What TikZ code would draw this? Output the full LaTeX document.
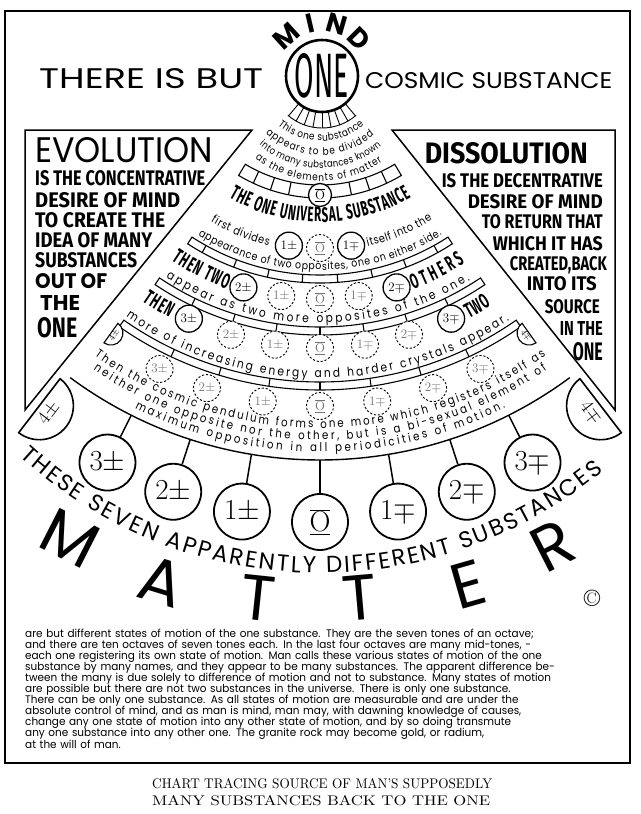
\documentclass[tikz,border=0pt]{standalone}
\usepackage{fix-cm}
\usepackage{graphicx}
\usepackage{fontspec}
\usetikzlibrary{calc, decorations.text}
\newfontfamily\geofont{Poppins}
\newfontfamily\smallfont[FakeStretch=0.85]{Poppins}
\newfontfamily\bodyfont[FakeStretch=0.95]{Poppins}
\newfontfamily\capfont[FakeStretch=0.55]{Fira Sans}
\newfontfamily\boxfont{Fira Sans}
\newcommand{\zerobar}{$\underline{\overline{\mathrm{O}}}$}
\newcommand{\pline}[1]{\makebox[588pt][s]{#1}}
\tikzset{
  frameline/.style={line width=1.5pt},
  rowband/.style={line width=1.1pt},
  stemline/.style={line width=1.5pt},
  solidring/.style={circle, draw, line width=1.3pt, minimum size=27pt, inner sep=0pt,
    fill=white, font=\fontsize{13}{13}\selectfont},
  dashring/.style={solidring, line width=0.9pt, dash pattern=on 2.2pt off 1.8pt, text=black!55},
  bigring/.style={circle, draw, line width=1.8pt, minimum size=56pt, inner sep=0pt,
    fill=white, font=\fontsize{29}{29}\selectfont},
  halfdisk/.style={line width=1.6pt, fill=white},
  curvetext/.style={decorate, decoration={text along path, text align=fit to path, text={#1}}},
  boxline/.style={anchor=base west, inner sep=0pt},
  boxlineR/.style={anchor=base east, inner sep=0pt},
  mindletter/.style={font=\geofont\bfseries\fontsize{27}{27}\selectfont, inner sep=0pt},
  matterletter/.style={font=\geofont\fontsize{64}{64}\selectfont, inner sep=0pt},
}
\begin{document}
\begin{tikzpicture}[x=1pt, y=1pt]
\useasboundingbox (0,0) rectangle (640,-814);
\coordinate (A) at (320,-40);
\coordinate (O2) at (321,-74);
\coordinate (C2) at (320,-128);
\draw[frameline] (5,-11) rectangle (630,-763);

\node[boxline] (there) at (39,-88) {\resizebox{224pt}{20pt}{\geofont THERE IS BUT}};
\node[boxline] (cosmic) at (365,-88) {\resizebox{247pt}{16pt}{\geofont COSMIC SUBSTANCE}};
\node[circle, draw, line width=2.6pt, minimum size=72pt, inner sep=0pt, fill=white] (one)
  at (322,-76) {\resizebox{54pt}{44pt}{\boxfont ONE}};
\draw[line width=0.9pt] ([shift={(-131:52)}]one.center) arc[start angle=-131, end angle=-49, radius=52];
\foreach \t in {-130,-120,...,-50}
  \draw[line width=0.9pt] ([shift={(\t:37)}]one.center) -- ([shift={(\t:52)}]one.center);
\node[mindletter, rotate=42] (mindM) at ([shift={(132:53)}]one.center) {M};
\node[mindletter, rotate=13] (mindI) at ([shift={(103:54)}]one.center) {I};
\node[mindletter, rotate=-16] (mindN) at ([shift={(74:54)}]one.center) {N};
\node[mindletter, rotate=-45] (mindD) at ([shift={(45:53)}]one.center) {D};

\path[curvetext={|\smallfont\fontsize{10.5}{10.5}\selectfont|This one substance}]
  ([shift={(-130:67)}]O2) arc[start angle=-130, end angle=-50, radius=67];
\path[curvetext={|\smallfont\fontsize{10.5}{10.5}\selectfont|appears to be divided}]
  ([shift={(-133:81)}]O2) arc[start angle=-133, end angle=-49, radius=81];
\path[curvetext={|\smallfont\fontsize{10}{10}\selectfont|into many substances known}]
  ([shift={(-131:94)}]O2) arc[start angle=-131, end angle=-50, radius=94];
\path[curvetext={|\smallfont\fontsize{10.5}{10.5}\selectfont|as the elements of matter}]
  ([shift={(-128:107)}]O2) arc[start angle=-128, end angle=-55, radius=107];

\draw[frameline] (25,-130) -- (252,-130) -- (25,-410) -- cycle;
\draw[frameline] (392,-130) -- (615,-130) -- (615,-410) -- cycle;
\node[boxline] (evo) at (35,-162) {\resizebox{178pt}{25pt}{\geofont EVOLUTION}};
\node[boxline] (evo1) at (35,-185) {\resizebox{170pt}{15pt}{\boxfont\bfseries IS THE CONCENTRATIVE}};
\node[boxline] (evo2) at (35,-207) {\resizebox{145pt}{15pt}{\boxfont\bfseries DESIRE OF MIND}};
\node[boxline] (evo3) at (35,-227) {\resizebox{130pt}{15pt}{\boxfont\bfseries TO CREATE THE}};
\node[boxline] (evo4) at (35,-247) {\resizebox{117pt}{15pt}{\boxfont\bfseries IDEA OF MANY}};
\node[boxline] (evo5) at (35,-267) {\resizebox{102pt}{15pt}{\boxfont\bfseries SUBSTANCES}};
\node[boxline] (evo6) at (35,-288) {\resizebox{72pt}{15pt}{\geofont\bfseries OUT OF}};
\node[boxline] (evo7) at (40,-310) {\resizebox{40pt}{15pt}{\geofont\bfseries THE}};
\node[boxline] (evo8) at (37,-337) {\resizebox{40pt}{20pt}{\boxfont\bfseries ONE}};
\node[boxlineR] (dis) at (588,-163) {\resizebox{163pt}{21pt}{\boxfont\bfseries DISSOLUTION}};
\node[boxlineR] (dis1) at (603,-187) {\resizebox{161pt}{14pt}{\boxfont\bfseries IS THE DECENTRATIVE}};
\node[boxlineR] (dis2) at (603,-208) {\resizebox{135pt}{14pt}{\boxfont\bfseries DESIRE OF MIND}};
\node[boxlineR] (dis3) at (603,-228) {\resizebox{121pt}{14pt}{\boxfont\bfseries TO RETURN THAT}};
\node[boxlineR] (dis4) at (603,-250) {\resizebox{110pt}{14pt}{\boxfont\bfseries WHICH IT HAS}};
\node[boxlineR] (dis5) at (607,-270) {\resizebox{97pt}{14pt}{\boxfont\bfseries CREATED,BACK}};
\node[boxlineR] (dis6) at (597,-290) {\resizebox{70pt}{14pt}{\boxfont\bfseries INTO ITS}};
\node[boxlineR] (dis7) at (600,-313) {\resizebox{55pt}{14pt}{\boxfont\bfseries SOURCE}};
\node[boxlineR] (dis8) at (603,-335) {\resizebox{43pt}{14pt}{\boxfont\bfseries IN THE}};
\node[boxlineR] (dis9) at (603,-360) {\resizebox{30pt}{18pt}{\boxfont\bfseries ONE}};

\draw[rowband] ([shift={(-121:145)}]A) arc[start angle=-121, end angle=-59, radius=145]
  -- ([shift={(-59:158)}]A) arc[start angle=-59, end angle=-121, radius=158] -- cycle;
\foreach \t in {-115,-108.3,-101.5,-78.5,-71.7,-65}
  \draw[rowband] ([shift={(\t:145)}]A) -- ([shift={(\t:158)}]A);
\node[solidring, minimum size=23pt] (band0) at ([shift={(-90:155)}]A) {\zerobar};

\path[curvetext={|\capfont\bfseries\fontsize{21}{21}\selectfont|THE ONE UNIVERSAL SUBSTANCE}]
  ([shift={(-120:182)}]A) arc[start angle=-120, end angle=-60, radius=182];
\path[curvetext={|\smallfont\fontsize{11.5}{11.5}\selectfont|first divides}]
  ([shift={(-121:212)}]A) arc[start angle=-121, end angle=-104, radius=212];
\node[solidring] (c1p) at ([shift={(-98.6:208)}]A) {$1\pm$};
\node[dashring] (c1o) at ([shift={(-90:208)}]A) {\zerobar};
\node[solidring] (c1m) at ([shift={(-81.4:208)}]A) {$1\mp$};
\path[curvetext={|\smallfont\fontsize{11.5}{11.5}\selectfont|itself into the}]
  ([shift={(-77:212)}]A) arc[start angle=-77, end angle=-58, radius=212];

\path[curvetext={|\smallfont\fontsize{11}{11}\selectfont|appearance of two opposites, one on either side.}]
  ([shift={(-122:230)}]A) arc[start angle=-122, end angle=-58, radius=230];
\draw[rowband] ([shift={(-123:235)}]A) arc[start angle=-123, end angle=-57, radius=235]
  -- ([shift={(-57:243)}]A) arc[start angle=-57, end angle=-123, radius=243] -- cycle;
\foreach \t in {-119,-110.8,-102.5,-94.2,-85.8,-77.5,-69.2,-61}
  \draw[rowband] ([shift={(\t:235)}]A) -- ([shift={(\t:243)}]A);

\path[curvetext={|\capfont\bfseries\fontsize{21}{21}\selectfont|THEN TWO}]
  ([shift={(-124:266)}]A) arc[start angle=-124, end angle=-110.5, radius=266];
\node[solidring] (c2p) at ([shift={(-107.2:259)}]A) {$2\pm$};
\node[dashring] (d2a) at ([shift={(-98.6:259)}]A) {$1\pm$};
\node[dashring] (d2b) at ([shift={(-90:259)}]A) {\zerobar};
\node[dashring] (d2c) at ([shift={(-81.4:259)}]A) {$1\mp$};
\node[solidring] (c2m) at ([shift={(-72.8:259)}]A) {$2\mp$};
\path[curvetext={|\capfont\bfseries\fontsize{21}{21}\selectfont|OTHERS}]
  ([shift={(-69.5:266)}]A) arc[start angle=-69.5, end angle=-57, radius=266];

\path[curvetext={|\smallfont\fontsize{12.5}{12.5}\selectfont|appear as two more opposites of the one.}]
  ([shift={(-123:283)}]A) arc[start angle=-123, end angle=-58, radius=283];
\draw[rowband] ([shift={(-124:287)}]A) arc[start angle=-124, end angle=-56, radius=287]
  -- ([shift={(-56:295)}]A) arc[start angle=-56, end angle=-124, radius=295] -- cycle;
\foreach \t in {-115.8,-107.2,-98.6,-90,-81.4,-72.8,-64.2}
  \draw[rowband] ([shift={(\t:287)}]A) -- ([shift={(\t:295)}]A);

\path[curvetext={|\capfont\bfseries\fontsize{21}{21}\selectfont|THEN}]
  ([shift={(-124.3:316)}]A) arc[start angle=-124.3, end angle=-118.5, radius=316];
\node[solidring] (c3p) at ([shift={(-115.2:308)}]A) {$3\pm$};
\node[dashring] (d3a) at ([shift={(-106.8:308)}]A) {$2\pm$};
\node[dashring] (d3b) at ([shift={(-98.4:308)}]A) {$1\pm$};
\node[dashring] (d3c) at ([shift={(-90:308)}]A) {\zerobar};
\node[dashring] (d3d) at ([shift={(-81.6:308)}]A) {$1\mp$};
\node[dashring] (d3e) at ([shift={(-73.2:308)}]A) {$2\mp$};
\node[solidring] (c3m) at ([shift={(-64.8:308)}]A) {$3\mp$};
\path[curvetext={|\capfont\bfseries\fontsize{21}{21}\selectfont|TWO}]
  ([shift={(-61.8:316)}]A) arc[start angle=-61.8, end angle=-57.2, radius=316];

\path[curvetext={|\smallfont\fontsize{12.5}{12.5}\selectfont|more of increasing energy and harder crystals appear.}]
  ([shift={(-125:338)}]A) arc[start angle=-125, end angle=-56, radius=338];
\draw[rowband] ([shift={(-125:342)}]A) arc[start angle=-125, end angle=-55, radius=342]
  -- ([shift={(-55:350)}]A) arc[start angle=-55, end angle=-125, radius=350] -- cycle;
\foreach \t in {-115.2,-106.8,-98.4,-90,-81.6,-73.2,-64.8}
  \draw[rowband] ([shift={(\t:342)}]A) -- ([shift={(\t:350)}]A);
\draw[halfdisk, line width=1.1pt] ([shift={(-125.5:372)}]A) arc[start angle=-125.5, end angle=54.5, radius=12] -- cycle;
\node[rotate=54.5, font=\fontsize{9}{9}\selectfont, inner sep=0pt] (s4p) at ($(A)+(-125.5:360)+(-35.5:4)$) {$4\pm$};
\draw[halfdisk, line width=1.1pt] ([shift={(-54.5:372)}]A) arc[start angle=-54.5, end angle=-234.5, radius=12] -- cycle;
\node[rotate=-54.5, font=\fontsize{9}{9}\selectfont, inner sep=0pt] (s4m) at ($(A)+(-54.5:360)+(-144.5:4)$) {$4\mp$};

\node[dashring] (d4a) at ([shift={(-116:366)}]A) {$3\pm$};
\node[dashring] (d4b) at ([shift={(-108:366)}]A) {$2\pm$};
\node[dashring] (d4c) at ([shift={(-99:366)}]A) {$1\pm$};
\node[dashring] (d4d) at ([shift={(-90:366)}]A) {\zerobar};
\node[dashring] (d4e) at ([shift={(-81:366)}]A) {$1\mp$};
\node[dashring] (d4f) at ([shift={(-72:366)}]A) {$2\mp$};
\node[dashring] (d4g) at ([shift={(-64:366)}]A) {$3\mp$};

\path[curvetext={|\smallfont\fontsize{12}{12}\selectfont|Then the cosmic pendulum forms one more which registers itself as}]
  ([shift={(-125.5:388)}]A) arc[start angle=-125.5, end angle=-54.5, radius=388];
\path[curvetext={|\smallfont\fontsize{12}{12}\selectfont|neither one opposite nor the other, but is a bi-sexual element of}]
  ([shift={(-124.5:400)}]A) arc[start angle=-124.5, end angle=-55.5, radius=400];
\path[curvetext={|\smallfont\fontsize{12}{12}\selectfont|maximum opposition in all periodicities of motion.}]
  ([shift={(-116.7:412)}]A) arc[start angle=-116.7, end angle=-63.3, radius=412];
\draw[line width=1.4pt] ([shift={(-126.5:420)}]A) arc[start angle=-126.5, end angle=-53.5, radius=420];

\node[bigring] (m3p) at ([shift={(-116.7:473)}]A) {$3\pm$};
\node[bigring] (m2p) at ([shift={(-108:475)}]A) {$2\pm$};
\node[bigring] (m1p) at ([shift={(-99.4:478)}]A) {$1\pm$};
\node[bigring] (m0) at ([shift={(-90:482)}]A) {\zerobar};
\node[bigring] (m1m) at ([shift={(-80.6:478)}]A) {$1\mp$};
\node[bigring] (m2m) at ([shift={(-72:475)}]A) {$2\mp$};
\node[bigring] (m3m) at ([shift={(-63.3:473)}]A) {$3\mp$};
\draw[stemline] ([shift={(-116.7:420)}]A) -- (m3p);
\draw[stemline] ([shift={(-108:420)}]A) -- (m2p);
\draw[stemline] ([shift={(-99.4:420)}]A) -- (m1p);
\draw[stemline] ([shift={(-90:420)}]A) -- (m0);
\draw[stemline] ([shift={(-80.6:420)}]A) -- (m1m);
\draw[stemline] ([shift={(-72:420)}]A) -- (m2m);
\draw[stemline] ([shift={(-63.3:420)}]A) -- (m3m);
\draw[halfdisk] ([shift={(-127.5:495)}]A) arc[start angle=-127.5, end angle=52.5, radius=34] -- cycle;
\node[rotate=52.5, font=\fontsize{19}{19}\selectfont, inner sep=0pt] (b4p) at ($(A)+(-127.5:461)+(-37.5:12)$) {$4\pm$};
\draw[halfdisk] ([shift={(-52.5:495)}]A) arc[start angle=-52.5, end angle=-232.5, radius=34] -- cycle;
\node[rotate=-52.5, font=\fontsize{19}{19}\selectfont, inner sep=0pt] (b4m) at ($(A)+(-52.5:461)+(-142.5:12)$) {$4\mp$};

\path[curvetext={|\geofont\fontsize{23}{23}\selectfont|THESE SEVEN APPARENTLY DIFFERENT SUBSTANCES}]
  ([shift={(-132.5:445)}]C2) arc[start angle=-132.5, end angle=-50.5, radius=445];
\node[matterletter, rotate=-27] (lM) at (70,-538) {M};
\node[matterletter, rotate=-17] (lA) at (162,-582) {A};
\node[matterletter, rotate=-6] (lT) at (258,-598) {T};
\node[matterletter, rotate=5] (lTT) at (360,-598) {T};
\node[matterletter, rotate=16] (lE) at (468,-584) {E};
\node[matterletter, rotate=27] (lR) at (553,-546) {R};
\node[font=\fontsize{24}{24}\selectfont, inner sep=0pt] (copy) at (592,-598) {\textcopyright};

\node[anchor=north west, inner sep=0pt, text width=588pt, align=left,
  font=\bodyfont\fontsize{11}{11}\selectfont] (para) at (25,-629) {%
\setlength{\lineskiplimit}{-20pt}%
\pline{are but different states of motion of the one substance. They are the seven tones of an octave;}\\
\pline{and there are ten octaves of seven tones each. In the last four octaves are many mid-tones, -}\\
\pline{each one registering its own state of motion. Man calls these various states of motion of the one}\\
\pline{substance by many names, and they appear to be many substances. The apparent difference be-}\\
\pline{tween the many is due solely to difference of motion and not to substance. Many states of motion}\\
are possible but there are not two substances in the universe. There is only one substance.\\
\pline{There can be only one substance. As all states of motion are measurable and are under the}\\
\pline{absolute control of mind, and as man is mind, man may, with dawning knowledge of causes,}\\
\pline{change any one state of motion into any other state of motion, and by so doing transmute}\\
\pline{any one substance into any other one. The granite rock may become gold, or radium,}\\
at the will of man.};
\node[boxline] (cap1) at (152,-788) {\resizebox{340pt}{10pt}{\rmfamily CHART TRACING SOURCE OF MAN'S SUPPOSEDLY}};
\node[boxline] (cap2) at (152,-805) {\resizebox{338pt}{10pt}{\rmfamily MANY SUBSTANCES BACK TO THE ONE}};
\end{tikzpicture}
\end{document}
